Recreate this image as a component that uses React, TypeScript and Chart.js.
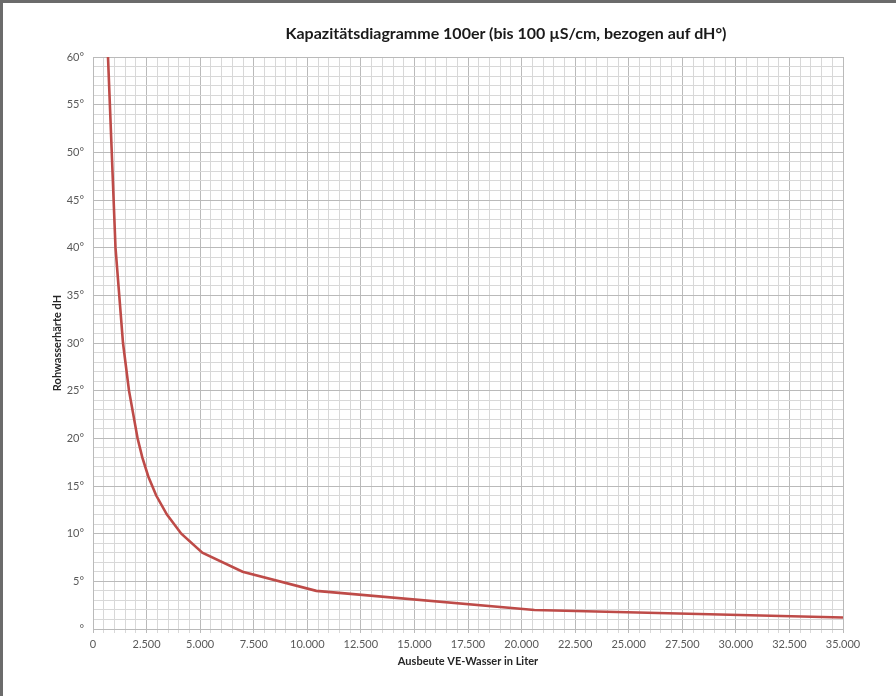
import React, { useEffect, useRef } from "react";
import { Chart, registerables } from "chart.js";

Chart.register(...registerables);

const chartTitle = "Kapazitätsdiagramme 100er (bis 100 µS/cm, bezogen auf dH°)";
const xAxisTitle = "Ausbeute VE-Wasser in Liter";
const yAxisTitle = "Rohwasserhärte dH";

// Rohwasserhärte (°dH) and Ausbeute (Liter)
const hardness = [60, 40, 30, 25, 20, 18, 16, 14, 12, 10, 8, 6, 4, 2, 1.2];
const yieldLiters = [700, 1050, 1400, 1680, 2080, 2300, 2580, 2950, 3450, 4120, 5100, 6980, 10420, 20600, 35000];

const xMin = 0;
const xMax = 35000;
const xMinorStep = 500;
const xMajorStep = 2500;
const yMin = 0;
const yMax = 60;
const yMinorStep = 1;
const yMajorStep = 5;

const FONT = "Lato, 'Open Sans', sans-serif";

function formatThousands(v: number): string {
  const s = Math.round(v).toString();
  return s.replace(/\B(?=(\d{3})+(?!\d))/g, ".");
}

export default function App() {
  const canvasRef = useRef<HTMLCanvasElement | null>(null);

  useEffect(() => {
    document.body.style.margin = "0";
    const canvas = canvasRef.current;
    if (!canvas) return;
    const points = yieldLiters.map((x, i) => ({ x, y: hardness[i] }));
    const chart = new Chart(canvas, {
      type: "line",
      data: {
        datasets: [
          {
            data: points,
            borderColor: "#be4b48",
            borderWidth: 2.6,
            pointRadius: 0,
            tension: 0,
            fill: false,
          },
        ],
      },
      options: {
        animation: false,
        responsive: false,
        devicePixelRatio: 1,
        layout: { padding: { left: 0, top: 54, right: 53, bottom: 0 } },
        plugins: {
          legend: { display: false },
          tooltip: { enabled: false },
          title: { display: false },
        },
        scales: {
          x: {
            type: "linear",
            min: xMin,
            max: xMax,
            afterFit: (scale: any) => {
              scale.height = 67;
            },
            ticks: {
              stepSize: xMinorStep,
              autoSkip: false,
              maxRotation: 0,
              minRotation: 0,
              padding: 5,
              color: "#595959",
              font: { family: FONT, size: 11 },
              callback: (v: any) => {
                const n = Number(v);
                return n % xMajorStep === 0 ? formatThousands(n) : "";
              },
            },
            grid: {
              drawTicks: true,
              tickLength: 4,
              color: (ctx: any) =>
                ctx.tick && ctx.tick.value % xMajorStep === 0 ? "#bababa" : "#d8d8d8",
              lineWidth: 1,
            },
            border: { color: "#bababa" },
            title: {
              display: true,
              text: xAxisTitle,
              color: "#262626",
              font: { family: FONT, size: 11, weight: "bold" },
              padding: { top: 0, bottom: 28 },
            },
          },
          y: {
            type: "linear",
            min: yMin,
            max: yMax,
            afterFit: (scale: any) => {
              scale.width = 90;
            },
            ticks: {
              stepSize: yMinorStep,
              autoSkip: false,
              padding: 9,
              color: "#595959",
              font: { family: FONT, size: 11 },
              callback: (v: any) => {
                const n = Number(v);
                if (n % yMajorStep !== 0) return "";
                return n === 0 ? "°" : `${n}°`;
              },
            },
            grid: {
              drawTicks: false,
              color: (ctx: any) =>
                ctx.tick && ctx.tick.value % yMajorStep === 0 ? "#bababa" : "#d8d8d8",
              lineWidth: 1,
            },
            border: { color: "#bababa" },
            title: {
              display: true,
              text: yAxisTitle,
              color: "#262626",
              font: { family: FONT, size: 11, weight: "bold" },
              padding: { top: 48, bottom: 0 },
            },
          },
        },
      },
    } as any);
    return () => chart.destroy();
  }, []);

  return (
    <div
      style={{
        position: "relative",
        width: 896,
        height: 696,
        boxSizing: "border-box",
        borderTop: "3px solid #6b6b6b",
        borderLeft: "3px solid #6b6b6b",
        background: "#ffffff",
        overflow: "hidden",
      }}
    >
      <canvas
        ref={canvasRef}
        width={893}
        height={693}
        style={{ position: "absolute", left: 0, top: 0, width: 893, height: 693 }}
      />
      <div
        style={{
          position: "absolute",
          left: 503,
          top: 29,
          transform: "translate(-50%, -50%)",
          whiteSpace: "nowrap",
          fontFamily: FONT,
          fontWeight: "bold",
          fontSize: 16,
          color: "#1a1a1a",
        }}
      >
        {chartTitle}
      </div>
    </div>
  );
}
